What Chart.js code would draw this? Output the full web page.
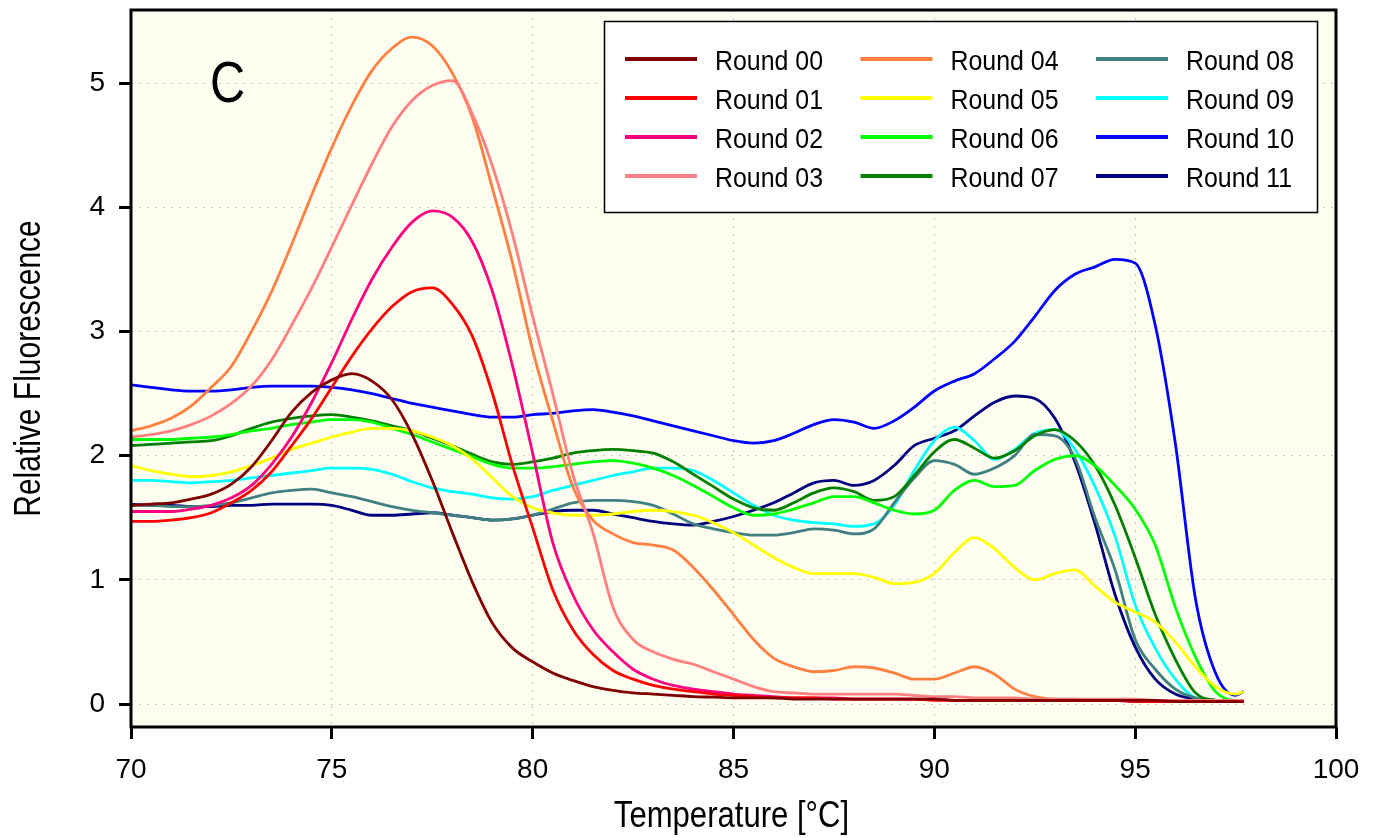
<!DOCTYPE html>
<html>
<head>
<meta charset="utf-8">
<script src="https://cdn.jsdelivr.net/npm/chart.js@4.4.1/dist/chart.umd.min.js"></script>
<style>
  html, body { margin: 0; padding: 0; background: #fff; }
  #c { display: block; }
</style>
</head>
<body>
<canvas id="c" width="1374" height="838"></canvas>
<script>
// melt curves, relative fluorescence vs temperature (0.5 degree steps)
var temps = [70, 70.5, 71, 71.5, 72, 72.5, 73, 73.5, 74, 74.5, 75, 75.5, 76, 76.5, 77, 77.5,
  78, 78.5, 79, 79.5, 80, 80.5, 81, 81.5, 82, 82.5, 83, 83.5, 84, 84.5, 85,
  85.5, 86, 86.5, 87, 87.5, 88, 88.5, 89, 89.5, 90, 90.5, 91, 91.5, 92, 92.5,
  93, 93.5, 94, 94.5, 95, 95.5, 96, 96.5, 97, 97.5, 97.7];

var round00 = [1.60, 1.61, 1.62, 1.65, 1.69, 1.77, 1.91, 2.12, 2.35, 2.51, 2.61, 2.66, 2.60, 2.45, 2.17, 1.80,
  1.38, 0.98, 0.65, 0.45, 0.34, 0.25, 0.19, 0.14, 0.11, 0.09, 0.08, 0.07, 0.06, 0.055, 0.05,
  0.05, 0.05, 0.04, 0.04, 0.04, 0.04, 0.04, 0.04, 0.04, 0.04, 0.03, 0.03, 0.03, 0.03, 0.03,
  0.03, 0.03, 0.03, 0.03, 0.03, 0.03, 0.02, 0.02, 0.02, 0.02, 0.02];
var round01 = [1.47, 1.47, 1.48, 1.50, 1.54, 1.62, 1.72, 1.87, 2.08, 2.30, 2.55, 2.80, 3.02, 3.20, 3.32, 3.35,
  3.22, 2.96, 2.50, 1.92, 1.42, 0.92, 0.60, 0.40, 0.27, 0.20, 0.15, 0.12, 0.10, 0.08, 0.07,
  0.06, 0.05, 0.05, 0.05, 0.04, 0.04, 0.04, 0.04, 0.04, 0.03, 0.03, 0.03, 0.03, 0.03, 0.03,
  0.03, 0.03, 0.03, 0.03, 0.02, 0.02, 0.02, 0.02, 0.02, 0.02, 0.02];
var round02 = [1.55, 1.55, 1.55, 1.57, 1.60, 1.66, 1.76, 1.93, 2.15, 2.43, 2.75, 3.10, 3.42, 3.68, 3.88, 3.97,
  3.92, 3.72, 3.32, 2.72, 2.02, 1.30, 0.88, 0.60, 0.42, 0.28, 0.20, 0.15, 0.12, 0.10, 0.08,
  0.07, 0.06, 0.05, 0.05, 0.05, 0.04, 0.04, 0.04, 0.04, 0.04, 0.03, 0.03, 0.03, 0.03, 0.03,
  0.03, 0.03, 0.03, 0.03, 0.02, 0.02, 0.02, 0.02, 0.02, 0.02, 0.02];
var round03 = [2.15, 2.17, 2.20, 2.25, 2.32, 2.42, 2.56, 2.77, 3.05, 3.35, 3.68, 4.02, 4.35, 4.65, 4.86, 4.98,
  5.02, 4.75, 4.33, 3.78, 3.12, 2.50, 1.85, 1.38, 0.78, 0.52, 0.42, 0.36, 0.32, 0.26, 0.20,
  0.14, 0.10, 0.09, 0.08, 0.08, 0.08, 0.08, 0.08, 0.07, 0.06, 0.06, 0.05, 0.05, 0.05, 0.04,
  0.04, 0.04, 0.04, 0.04, 0.04, 0.03, 0.03, 0.03, 0.03, 0.03, 0.03];
var round04 = [2.20, 2.24, 2.30, 2.40, 2.55, 2.72, 3.00, 3.32, 3.70, 4.10, 4.48, 4.82, 5.10, 5.28, 5.37, 5.30,
  5.08, 4.72, 4.15, 3.55, 2.85, 2.28, 1.75, 1.48, 1.37, 1.30, 1.28, 1.24, 1.10, 0.92, 0.72,
  0.52, 0.37, 0.30, 0.26, 0.27, 0.30, 0.29, 0.25, 0.20, 0.20, 0.25, 0.30, 0.24, 0.12, 0.06,
  0.04, 0.04, 0.03, 0.03, 0.03, 0.03, 0.03, 0.03, 0.03, 0.03, 0.03];
var round05 = [1.92, 1.88, 1.85, 1.83, 1.84, 1.87, 1.92, 1.98, 2.05, 2.10, 2.15, 2.19, 2.22, 2.22, 2.20, 2.15,
  2.08, 1.97, 1.82, 1.67, 1.58, 1.54, 1.52, 1.52, 1.53, 1.55, 1.56, 1.55, 1.52, 1.46, 1.38,
  1.28, 1.18, 1.10, 1.05, 1.05, 1.05, 1.02, 0.97, 0.98, 1.05, 1.22, 1.34, 1.25, 1.10, 1.00,
  1.05, 1.08, 0.95, 0.82, 0.74, 0.66, 0.50, 0.30, 0.14, 0.08, 0.10];
var round06 = [2.13, 2.13, 2.13, 2.14, 2.15, 2.17, 2.20, 2.22, 2.25, 2.27, 2.29, 2.29, 2.27, 2.22, 2.17, 2.11,
  2.05, 1.99, 1.93, 1.90, 1.90, 1.91, 1.93, 1.95, 1.96, 1.94, 1.90, 1.84, 1.76, 1.67, 1.58,
  1.52, 1.53, 1.57, 1.62, 1.67, 1.67, 1.62, 1.56, 1.53, 1.56, 1.72, 1.80, 1.75, 1.76, 1.88,
  1.97, 2.00, 1.92, 1.76, 1.57, 1.28, 0.78, 0.38, 0.10, 0.03, 0.03];
var round07 = [2.08, 2.09, 2.10, 2.11, 2.12, 2.16, 2.22, 2.27, 2.30, 2.32, 2.33, 2.31, 2.28, 2.24, 2.20, 2.14,
  2.08, 2.01, 1.95, 1.93, 1.95, 1.98, 2.02, 2.04, 2.05, 2.04, 2.02, 1.95, 1.85, 1.75, 1.65,
  1.58, 1.56, 1.62, 1.70, 1.74, 1.71, 1.64, 1.67, 1.84, 2.03, 2.13, 2.06, 1.98, 2.04, 2.16,
  2.21, 2.12, 1.92, 1.60, 1.18, 0.72, 0.36, 0.09, 0.03, 0.02, 0.02];
var round08 = [1.60, 1.60, 1.59, 1.59, 1.60, 1.62, 1.66, 1.70, 1.72, 1.73, 1.70, 1.67, 1.63, 1.59, 1.56, 1.54,
  1.52, 1.50, 1.48, 1.49, 1.52, 1.57, 1.62, 1.64, 1.64, 1.63, 1.60, 1.53, 1.45, 1.41, 1.38,
  1.36, 1.36, 1.38, 1.41, 1.40, 1.37, 1.41, 1.62, 1.82, 1.96, 1.93, 1.85, 1.90, 2.00, 2.17,
  2.16, 1.98, 1.50, 1.08, 0.52, 0.28, 0.12, 0.05, 0.03, 0.02, 0.02];
var round09 = [1.80, 1.80, 1.79, 1.78, 1.79, 1.80, 1.82, 1.84, 1.86, 1.88, 1.90, 1.90, 1.89, 1.85, 1.79, 1.74,
  1.71, 1.69, 1.66, 1.65, 1.67, 1.72, 1.76, 1.80, 1.84, 1.87, 1.90, 1.90, 1.88, 1.80, 1.70,
  1.60, 1.52, 1.48, 1.46, 1.45, 1.43, 1.45, 1.60, 1.88, 2.12, 2.23, 2.12, 1.97, 2.05, 2.18,
  2.21, 2.05, 1.75, 1.35, 0.80, 0.45, 0.20, 0.05, 0.03, 0.02, 0.02];
var round10 = [2.57, 2.55, 2.53, 2.52, 2.52, 2.53, 2.55, 2.56, 2.56, 2.56, 2.55, 2.53, 2.50, 2.46, 2.42, 2.39,
  2.36, 2.33, 2.31, 2.31, 2.33, 2.34, 2.36, 2.37, 2.35, 2.32, 2.28, 2.24, 2.20, 2.16, 2.12,
  2.10, 2.12, 2.18, 2.25, 2.29, 2.27, 2.22, 2.28, 2.39, 2.52, 2.60, 2.66, 2.78, 2.92, 3.12,
  3.33, 3.46, 3.52, 3.58, 3.55, 3.05, 2.10, 0.85, 0.25, 0.07, 0.10];
var round11 = [1.61, 1.60, 1.60, 1.59, 1.59, 1.60, 1.60, 1.61, 1.61, 1.61, 1.60, 1.56, 1.52, 1.52, 1.53, 1.54,
  1.52, 1.50, 1.48, 1.49, 1.52, 1.55, 1.56, 1.56, 1.53, 1.50, 1.47, 1.45, 1.44, 1.47, 1.51,
  1.56, 1.62, 1.70, 1.78, 1.80, 1.76, 1.80, 1.92, 2.08, 2.14, 2.20, 2.32, 2.43, 2.48, 2.46,
  2.30, 1.95, 1.45, 0.88, 0.46, 0.20, 0.08, 0.04, 0.03, 0.02, 0.02];

var seriesNames = ['Round 00', 'Round 01', 'Round 02', 'Round 03', 'Round 04', 'Round 05',
  'Round 06', 'Round 07', 'Round 08', 'Round 09', 'Round 10', 'Round 11'];
var seriesValues = [round00, round01, round02, round03, round04, round05,
  round06, round07, round08, round09, round10, round11];
var seriesColors = ['#800000', '#ff0000', '#ff0080', '#ff8080', '#ff8040', '#ffff00',
  '#00ff00', '#008000', '#408080', '#00ffff', '#0000ff', '#000080'];

var yTicks = [0, 1, 2, 3, 4, 5];
var xTitle = 'Temperature [°C]';
var yTitle = 'Relative Fluorescence';
var panelLabel = 'C';

var fontFamily = "'Liberation Sans', Arial, sans-serif";

var datasets = seriesNames.map(function (name, i) {
  return {
    label: name,
    data: temps.map(function (t, j) { return { x: t, y: seriesValues[i][j] }; }),
    borderColor: seriesColors[i],
    backgroundColor: seriesColors[i],
    borderWidth: 2.8,
    pointRadius: 0,
    fill: false,
    cubicInterpolationMode: 'monotone'
  };
});

// draw narrow text (the original uses a condensed face)
function narrowText(ctx, text, x, y, sx, align) {
  ctx.save();
  ctx.translate(x, y);
  ctx.scale(sx, 1);
  ctx.textAlign = align || 'left';
  ctx.fillText(text, 0, 0);
  ctx.restore();
}

var frameAndLegend = {
  id: 'frameAndLegend',
  beforeDraw: function (chart) {
    var ctx = chart.ctx, a = chart.chartArea;
    ctx.save();
    ctx.fillStyle = '#ffffff';
    ctx.fillRect(0, 0, chart.width, chart.height);
    ctx.fillStyle = '#fdfdf0';
    ctx.fillRect(a.left, a.top, a.right - a.left, a.bottom - a.top);
    ctx.restore();
  },
  afterDraw: function (chart) {
    var ctx = chart.ctx, a = chart.chartArea;
    ctx.save();
    // plot frame
    ctx.strokeStyle = '#000';
    ctx.lineWidth = 3;
    ctx.strokeRect(a.left, a.top, a.right - a.left, a.bottom - a.top);

    ctx.fillStyle = '#000';
    ctx.textBaseline = 'alphabetic';

    // panel letter
    ctx.font = '58px ' + fontFamily;
    narrowText(ctx, panelLabel, 210, 102, 0.84);

    // axis titles
    ctx.font = '37px ' + fontFamily;
    narrowText(ctx, xTitle, (a.left + a.right) / 2 - 2, 827, 0.84, 'center');
    ctx.save();
    ctx.translate(40, (a.top + a.bottom) / 2);
    ctx.rotate(-Math.PI / 2);
    narrowText(ctx, yTitle, 0, 0, 0.81, 'center');
    ctx.restore();

    // legend box, 3 columns of 4
    ctx.fillStyle = '#fff';
    ctx.fillRect(604, 21, 713, 191);
    ctx.lineWidth = 1.5;
    ctx.strokeStyle = '#000';
    ctx.strokeRect(604.5, 21.5, 713, 191);
    ctx.font = '28px ' + fontFamily;
    chart.data.datasets.forEach(function (ds, i) {
      var col = Math.floor(i / 4), row = i % 4;
      var x0 = 625 + col * 235.5, y = 59 + row * 39;
      ctx.strokeStyle = ds.borderColor;
      ctx.lineWidth = 4;
      ctx.beginPath();
      ctx.moveTo(x0, y);
      ctx.lineTo(x0 + 72, y);
      ctx.stroke();
      ctx.fillStyle = '#000';
      narrowText(ctx, ds.label, x0 + 90, y + 11, 0.89);
    });
    ctx.restore();
  }
};

new Chart(document.getElementById('c'), {
  type: 'line',
  data: { datasets: datasets },
  options: {
    responsive: false,
    devicePixelRatio: 1,
    animation: false,
    layout: { padding: { top: 10, right: 38, left: 0, bottom: 0 } },
    plugins: {
      legend: { display: false },
      tooltip: { enabled: false }
    },
    scales: {
      x: {
        type: 'linear',
        min: 70,
        max: 100,
        ticks: { stepSize: 5, color: '#000', padding: 14, font: { family: fontFamily, size: 28 } },
        grid: {
          color: '#c4c4c4', lineWidth: 1, drawTicks: true, tickLength: 12,
          tickWidth: 3, tickColor: '#000', tickBorderDash: []
        },
        border: { display: false, dash: [2, 6] },
        afterFit: function (s) {
          s.height = 111;
          s.paddingLeft = 0; s.paddingRight = 0;
        }
      },
      y: {
        type: 'linear',
        min: -0.185,
        max: 5.588,
        afterBuildTicks: function (s) {
          s.ticks = yTicks.map(function (v) { return { value: v }; });
        },
        ticks: { color: '#000', padding: 14, font: { family: fontFamily, size: 28 } },
        grid: {
          color: '#c4c4c4', lineWidth: 1, drawTicks: true, tickLength: 12,
          tickWidth: 3, tickColor: '#000', tickBorderDash: []
        },
        border: { display: false, dash: [2, 6] },
        afterFit: function (s) {
          s.width = 131;
          s.paddingTop = 0; s.paddingBottom = 0;
        }
      }
    }
  },
  plugins: [frameAndLegend]
});
</script>
</body>
</html>
